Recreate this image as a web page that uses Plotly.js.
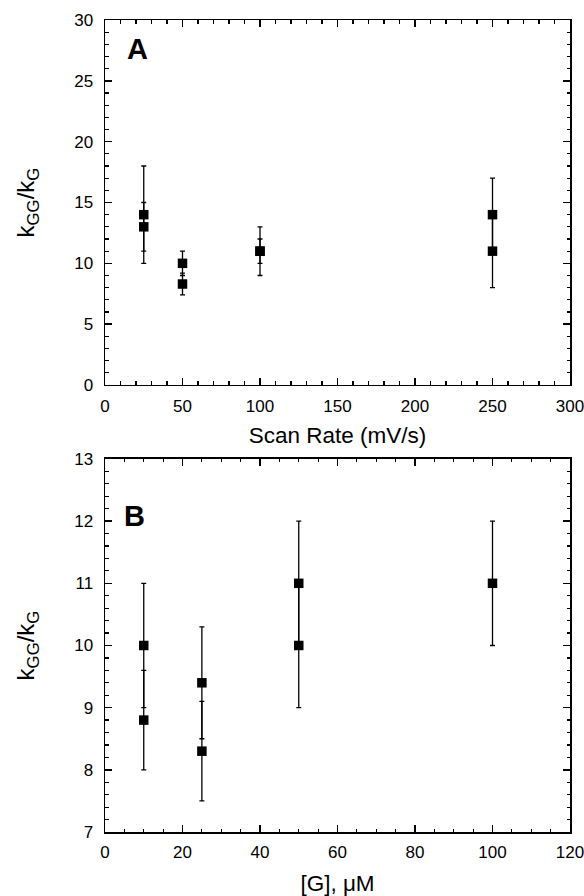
<!DOCTYPE html>
<html>
<head>
<meta charset="utf-8">
<script src="https://cdn.plot.ly/plotly-3.0.1.min.js"></script>
<style>html,body{margin:0;padding:0;background:#fff;}#chart{width:584px;height:896px;}</style>
</head>
<body>
<div id="chart"></div>
<script>
// Panel A data
const scanRate = [25, 25, 50, 50, 100, 100, 250, 250];
const ratioA = [14, 13, 10, 8.3, 11, 11, 14, 11];
const errA = [4, 2, 1, 0.9, 2, 1, 3, 3];

// Panel B data
const gConc = [10, 10, 25, 25, 50, 50, 100];
const ratioB = [10, 8.8, 9.4, 8.3, 11, 10, 11];
const errB = [1, 0.8, 0.9, 0.8, 1, 1, 1];

const font = 'Liberation Sans, Arial, Helvetica, sans-serif';
const marker = {symbol: 'square', size: 9.5, color: '#000'};
const errStyle = {color: '#000', thickness: 1.3, width: 2.5};

const traces = [
  {x: scanRate, y: ratioA, type: 'scatter', mode: 'markers', marker: marker,
   error_y: Object.assign({type: 'data', array: errA, visible: true}, errStyle),
   xaxis: 'x', yaxis: 'y', hoverinfo: 'x+y'},
  {x: gConc, y: ratioB, type: 'scatter', mode: 'markers', marker: marker,
   error_y: Object.assign({type: 'data', array: errB, visible: true}, errStyle),
   xaxis: 'x2', yaxis: 'y2', hoverinfo: 'x+y'}
];

const minorStyle = {ticks: 'inside', ticklen: 3.5, tickcolor: '#000', tickwidth: 1.2};
const axisBase = {
  showgrid: false, zeroline: false, showline: true, linecolor: '#000', linewidth: 1.5,
  mirror: 'allticks', ticks: 'inside', ticklen: 7, tickwidth: 1.5, tickcolor: '#000',
  ticklabeloverflow: 'allow',
  tickfont: {family: font, size: 17, color: '#000'}
};
function ax(extra) { return Object.assign({}, axisBase, extra); }

const ytitleText = 'k<sub>GG</sub>/k<sub>G</sub>';
const titleFont = {family: font, size: 22.5, color: '#000'};
const ytitleFont = {family: font, size: 24, color: '#000'};

const layout = {
  width: 584, height: 896,
  margin: {l: 105, r: 14, t: 20, b: 64},
  paper_bgcolor: '#fff', plot_bgcolor: '#fff',
  showlegend: false,
  xaxis: ax({range: [0, 300], dtick: 50, tick0: 0, anchor: 'y', domain: [0, 1], ticklabelstandoff: 5,
    minor: Object.assign({dtick: 10}, minorStyle),
    title: {text: 'Scan Rate (mV/s)', font: titleFont, standoff: 12}}),
  yaxis: ax({range: [0, 30], dtick: 5, tick0: 0, anchor: 'x', domain: [0.5505, 1], ticklabelstandoff: 7,
    minor: Object.assign({dtick: 1}, minorStyle),
    title: {text: ytitleText, font: ytitleFont, standoff: 33}}),
  xaxis2: ax({range: [0, 120], dtick: 20, tick0: 0, anchor: 'y2', domain: [0, 1], ticklabelstandoff: 4,
    minor: Object.assign({dtick: 5}, minorStyle),
    title: {text: '[G], μM', font: titleFont, standoff: 22}}),
  yaxis2: ax({range: [7, 13], dtick: 1, tick0: 7, anchor: 'x2', domain: [0, 0.4594], ticklabelstandoff: 7,
    minor: Object.assign({dtick: 0.2}, minorStyle),
    title: {text: ytitleText, font: ytitleFont, standoff: 33}}),
  annotations: [
    {text: '<b>A</b>', xref: 'x domain', yref: 'y domain', x: 0.069, y: 0.92, xanchor: 'center', yanchor: 'middle',
     showarrow: false, font: {family: font, size: 29, color: '#000'}},
    {text: '<b>B</b>', xref: 'x2 domain', yref: 'y2 domain', x: 0.0645, y: 0.847, xanchor: 'center', yanchor: 'middle',
     showarrow: false, font: {family: font, size: 29, color: '#000'}}
  ]
};

Plotly.newPlot('chart', traces, layout, {displayModeBar: false, staticPlot: true});
</script>
</body>
</html>
